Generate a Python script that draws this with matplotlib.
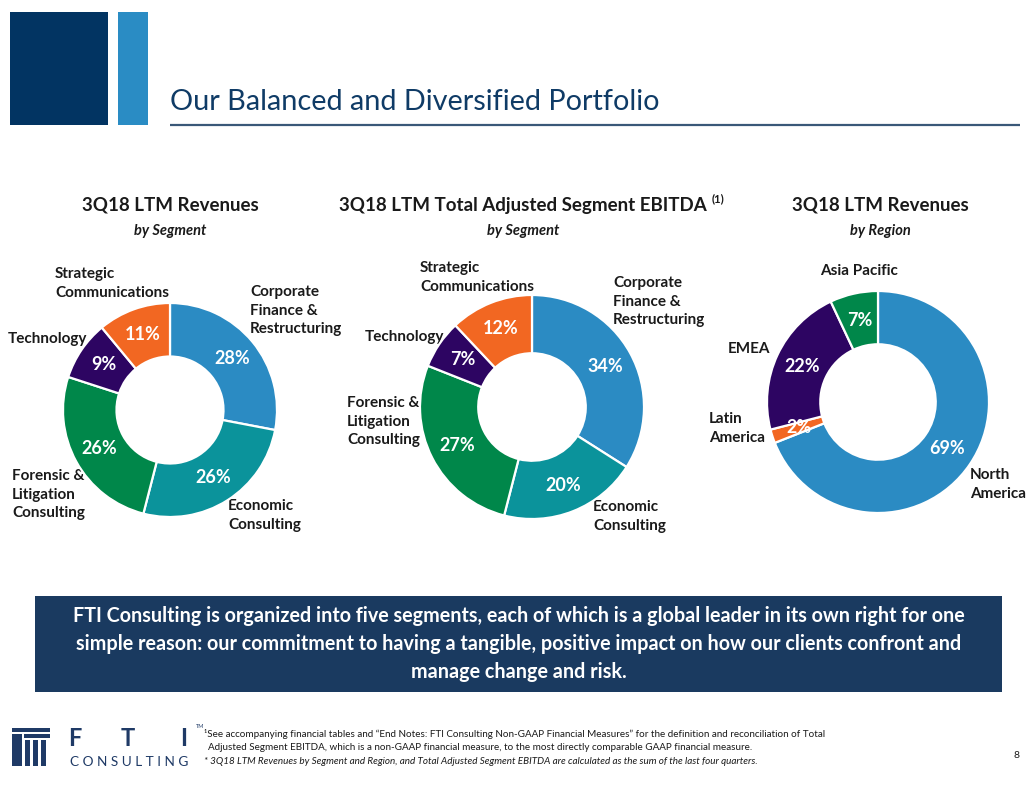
import matplotlib
matplotlib.use("Agg")
import matplotlib.pyplot as plt
from matplotlib.patches import Rectangle

plt.rcParams['font.family'] = ['Lato', 'DejaVu Sans']

W, H = 1032, 792

# ---------------- data ----------------
seg_labels = ["Corporate\nFinance &\nRestructuring", "Economic\nConsulting",
              "Forensic &\nLitigation\nConsulting", "Technology",
              "Strategic\nCommunications"]
rev_by_segment = [28, 26, 26, 9, 11]
ebitda_by_segment = [34, 20, 27, 7, 12]
region_labels = ["North\nAmerica", "Latin\nAmerica", "EMEA", "Asia Pacific"]
rev_by_region = [69, 2, 22, 7]

seg_colors = ["#2B8BC3", "#0B939B", "#00874A", "#2D0562", "#F26722"]
region_colors = ["#2B8BC3", "#F26722", "#2D0562", "#00874A"]

titles = ["3Q18 LTM Revenues", "3Q18 LTM Total Adjusted Segment EBITDA",
          "3Q18 LTM Revenues"]
subtitles = ["by Segment", "by Segment", "by Region"]

banner_text = ("FTI Consulting is organized into five segments, each of which is a global leader in its own right for one\n"
               "simple reason: our commitment to having a tangible, positive impact on how our clients confront and\n"
               "manage change and risk.")
foot1 = ("\u00b9See accompanying financial tables and \u201cEnd Notes: FTI Consulting Non-GAAP Financial Measures\u201d "
         "for the definition and reconciliation of Total")
foot2 = ("Adjusted Segment EBITDA, which is a non-GAAP financial measure, to the most directly comparable GAAP "
         "financial measure.")
foot3 = ("* 3Q18 LTM Revenues by Segment and Region, and Total Adjusted Segment EBITDA are calculated as the sum "
         "of the last four quarters.")

# ---------------- figure ----------------
fig = plt.figure(figsize=(W / 100, H / 100), dpi=100)
bg = fig.add_axes([0, 0, 1, 1])
bg.set_xlim(0, W)
bg.set_ylim(H, 0)
bg.axis('off')

NAVY = "#023462"
TITLE_C = "#0F3B66"
TXT = "#1A1A1A"

# header blocks
bg.add_patch(Rectangle((10, 12), 98, 113, color=NAVY, lw=0))
bg.add_patch(Rectangle((118, 12), 30, 113, color="#2A8CC4", lw=0))
bg.text(170, 102, "Our Balanced and Diversified Portfolio", fontsize=20.8,
        color=TITLE_C, va='center', ha='left')
bg.plot([170, 1020], [125, 125], color="#3A5878", lw=1.6, solid_capstyle='butt')

# headings
head_x = [170, 523, 880]
for i, (t, s) in enumerate(zip(titles, subtitles)):
    bg.text(head_x[i], 205, t, fontsize=13.5, fontweight='bold', color=TXT,
            ha='center', va='center')
    bg.text(head_x[i], 231, s, fontsize=10.5, fontweight='bold', style='italic',
            color=TXT, ha='center', va='center')
bg.text(712, 199, "(1)", fontsize=8, fontweight='bold', color=TXT, ha='left', va='center')


def donut(cx, cy, r, vals, colors, width=0.5):
    ax = fig.add_axes([(cx - r) / W, (H - cy - r) / H, 2 * r / W, 2 * r / H])
    ax.pie(vals, colors=colors, startangle=90, counterclock=False, radius=1,
           wedgeprops=dict(width=width, edgecolor='white', linewidth=1.6),
           autopct=lambda p: f"{p:.0f}%", pctdistance=0.75,
           textprops=dict(color='white', fontweight='bold', fontsize=13))
    ax.set_xlim(-1, 1)
    ax.set_ylim(-1, 1)
    ax.set_aspect('equal')
    ax.axis('off')
    return ax


donut(170, 410, 107, rev_by_segment, seg_colors, 0.5)
donut(532, 407, 112, ebitda_by_segment, seg_colors, 0.52)
donut(878, 402, 111, rev_by_region, region_colors, 0.48)

lab_kw = dict(fontsize=11, fontweight='bold', color=TXT, va='top', ha='left',
              linespacing=1.42)
# chart 1 labels (top-left positions)
bg.text(250, 285, seg_labels[0], **lab_kw)
bg.text(228, 499, seg_labels[1], **lab_kw)
bg.text(12, 469, seg_labels[2], **lab_kw)
bg.text(8, 332, seg_labels[3], **lab_kw)
bg.text(55, 267, seg_labels[4], **lab_kw)
# chart 2 labels
bg.text(613, 276, seg_labels[0], **lab_kw)
bg.text(593, 500, seg_labels[1], **lab_kw)
bg.text(347, 396, seg_labels[2], **lab_kw)
bg.text(365, 330, seg_labels[3], **lab_kw)
bg.text(420, 261, seg_labels[4], **lab_kw)
# chart 3 labels
bg.text(970, 468, region_labels[0], **lab_kw)
bg.text(709, 412, region_labels[1], **lab_kw)
bg.text(728, 342, region_labels[2], **lab_kw)
bg.text(820, 264, region_labels[3], **lab_kw)

# banner
bg.add_patch(Rectangle((35, 596), 967, 96, color="#1A3A60", lw=0))
bg.text(519, 644, banner_text, fontsize=14.2, fontweight='bold', color='white',
        ha='center', va='center', linespacing=1.5)

# logo
LOGO = "#1F3A66"
bg.add_patch(Rectangle((12, 728), 38, 4, color=LOGO, lw=0))
bg.add_patch(Rectangle((12, 734), 10, 32, color=LOGO, lw=0))
bg.add_patch(Rectangle((24, 734), 26, 4, color=LOGO, lw=0))
for xx in (25, 33, 41):
    bg.add_patch(Rectangle((xx, 740), 5, 26, color=LOGO, lw=0))
for xx, ch in zip((75, 128, 184), "FTI"):
    bg.text(xx, 739, ch, fontsize=17, fontweight='bold', color=LOGO, ha='center', va='center')
bg.text(129, 762, "C O N S U L T I N G", fontsize=9.8, color=LOGO, ha='center', va='center')
bg.text(196, 727, "TM", fontsize=4, color=LOGO, ha='left', va='center')

# footnotes
bg.text(204, 734, foot1, fontsize=7.1, color=TXT, ha='left', va='center')
bg.text(208, 747, foot2, fontsize=7.1, color=TXT, ha='left', va='center')
bg.text(204, 761, foot3, fontsize=7.1, color=TXT, style='italic', ha='left', va='center')
bg.text(1017, 756, "8", fontsize=7.5, color=TXT, ha='center', va='center')

fig.savefig("out.png", dpi=100)
